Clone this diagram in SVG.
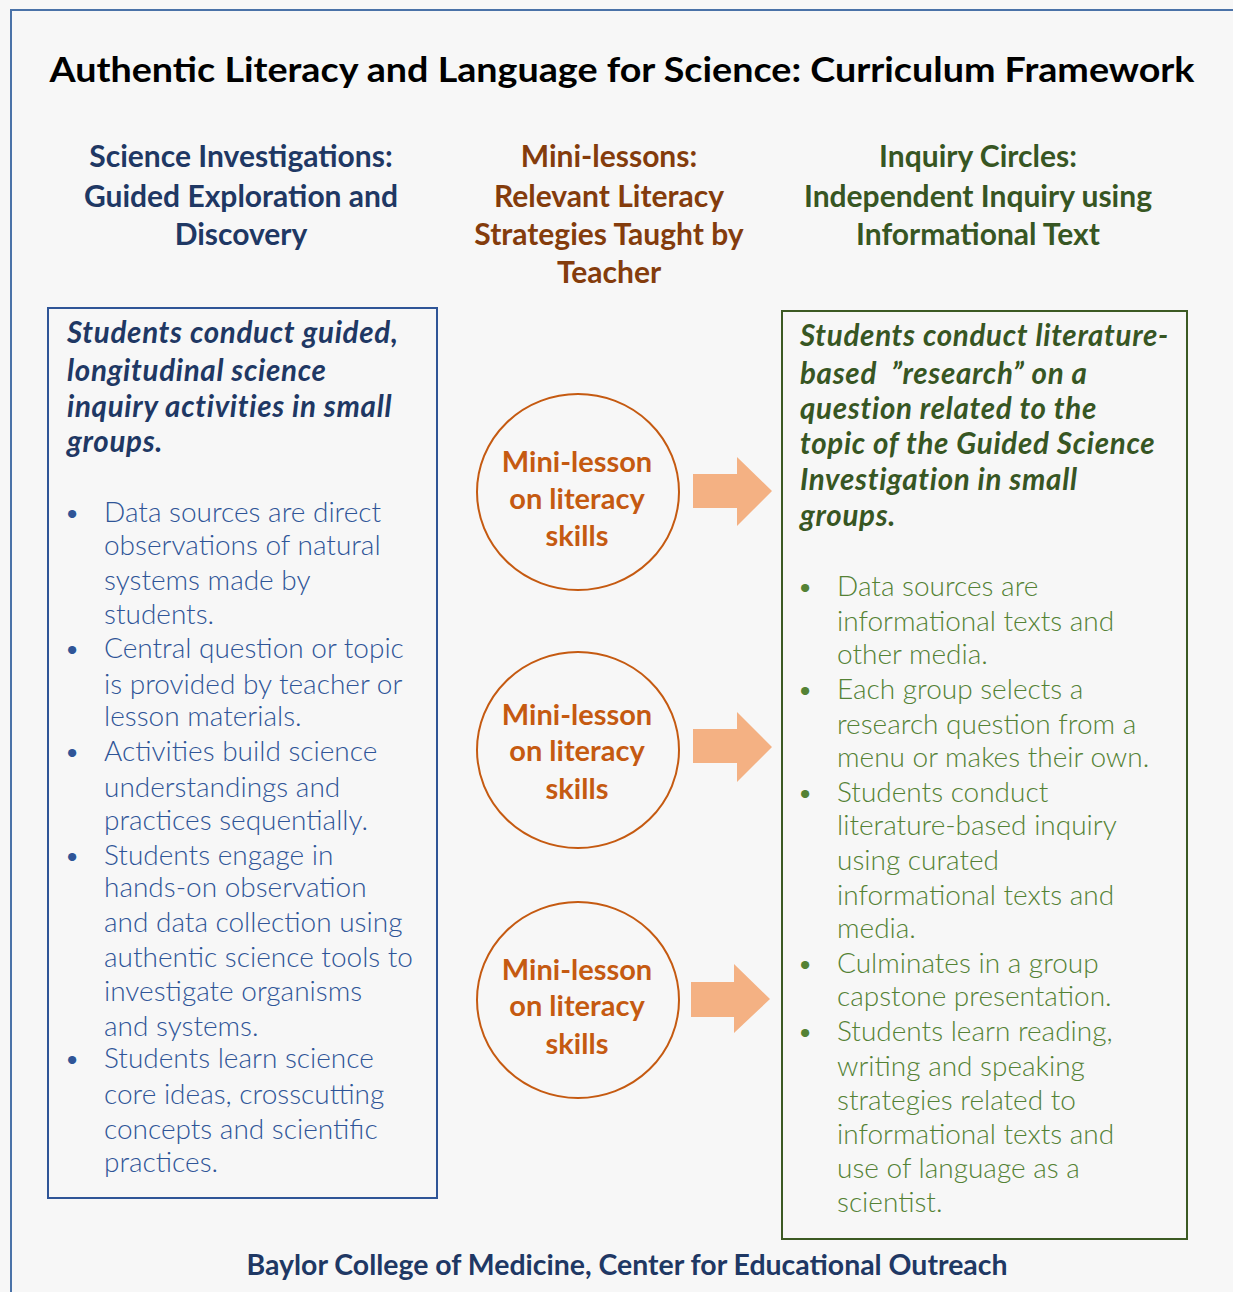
<svg xmlns="http://www.w3.org/2000/svg" width="1233" height="1292" viewBox="0 0 1233 1292">
<defs>
<style>
.title{font-family:Lato,"Liberation Sans",sans-serif;font-weight:700;font-size:35px;fill:#000}
.hd{font-family:Lato,"Liberation Sans",sans-serif;font-weight:700;font-size:30px;text-anchor:middle}
.hb{fill:#1f3864}.hm{fill:#843c0c}.hg{fill:#375623}
.lead{font-family:Lato,"Liberation Sans",sans-serif;font-weight:700;font-style:italic;font-size:29.5px;letter-spacing:0.7px}
.bl{font-family:Lato,"Liberation Sans",sans-serif;font-weight:300;font-size:28px}
.blue{fill:#2f5597}.green{fill:#548235}
.circ{fill:none;stroke:#c55a11;stroke-width:2}
.ct{font-family:Lato,"Liberation Sans",sans-serif;font-weight:700;font-size:29px;fill:#c55a11;text-anchor:middle}
.arr{fill:#f4b183}
.foot{font-family:Lato,"Liberation Sans",sans-serif;font-weight:700;font-size:28px;fill:#1f3864;text-anchor:middle}
</style>
</defs>
<rect x="0" y="0" width="1233" height="1292" fill="#f7f7f7"/>
<path d="M11 1292 V10 H1233" fill="none" stroke="#4a72a8" stroke-width="2"/>
<text class="title" x="622" y="82" text-anchor="middle" textLength="1145" lengthAdjust="spacingAndGlyphs">Authentic Literacy and Language for Science: Curriculum Framework</text>

<g id="header-left" class="hd hb">
<text x="241" y="167">Science Investigations:</text>
<text x="241" y="207">Guided Exploration and</text>
<text x="241" y="245">Discovery</text>
</g>
<g id="header-mid" class="hd hm">
<text x="609" y="167">Mini-lessons:</text>
<text x="609" y="207">Relevant Literacy</text>
<text x="609" y="245">Strategies Taught by</text>
<text x="609" y="283">Teacher</text>
</g>
<g id="header-right" class="hd hg">
<text x="978" y="167">Inquiry Circles:</text>
<text x="978" y="207">Independent Inquiry using</text>
<text x="978" y="245">Informational Text</text>
</g>

<g id="box-left">
<rect x="48" y="308" width="389" height="890" fill="none" stroke="#2f5597" stroke-width="2"/>
<g class="lead hb">
<text x="67" y="343">Students conduct guided,</text>
<text x="67" y="381">longitudinal science</text>
<text x="67" y="417">inquiry activities in small</text>
<text x="67" y="452">groups.</text>
</g>
<g class="bl blue">
<text x="64" y="522">•</text>
<text x="104" y="522">Data sources are direct</text>
<text x="104" y="555">observations of natural</text>
<text x="104" y="590">systems made by</text>
<text x="104" y="624">students.</text>
<text x="64" y="658">•</text>
<text x="104" y="658">Central question or topic</text>
<text x="104" y="694">is provided by teacher or</text>
<text x="104" y="726">lesson materials.</text>
<text x="64" y="761">•</text>
<text x="104" y="761">Activities build science</text>
<text x="104" y="797">understandings and</text>
<text x="104" y="830">practices sequentially.</text>
<text x="64" y="865">•</text>
<text x="104" y="865">Students engage in</text>
<text x="104" y="897">hands-on observation</text>
<text x="104" y="932">and data collection using</text>
<text x="104" y="967">authentic science tools to</text>
<text x="104" y="1001">investigate organisms</text>
<text x="104" y="1036">and systems.</text>
<text x="64" y="1068">•</text>
<text x="104" y="1068">Students learn science</text>
<text x="104" y="1104">core ideas, crosscutting</text>
<text x="104" y="1139">concepts and scientific</text>
<text x="104" y="1172">practices.</text>
</g>
</g>

<g id="box-right">
<rect x="782" y="311" width="405" height="928" fill="none" stroke="#3c5a23" stroke-width="2"/>
<g class="lead hg">
<text x="800" y="346">Students conduct literature-</text>
<text x="800" y="384" xml:space="preserve">based  ”research” on a</text>
<text x="800" y="419">question related to the</text>
<text x="800" y="454">topic of the Guided Science</text>
<text x="800" y="490">Investigation in small</text>
<text x="800" y="526">groups.</text>
</g>
<g class="bl green">
<text x="797" y="596">•</text>
<text x="837" y="596">Data sources are</text>
<text x="837" y="631">informational texts and</text>
<text x="837" y="664">other media.</text>
<text x="797" y="699">•</text>
<text x="837" y="699">Each group selects a</text>
<text x="837" y="734">research question from a</text>
<text x="837" y="767">menu or makes their own.</text>
<text x="797" y="802">•</text>
<text x="837" y="802">Students conduct</text>
<text x="837" y="835">literature-based inquiry</text>
<text x="837" y="870">using curated</text>
<text x="837" y="905">informational texts and</text>
<text x="837" y="938">media.</text>
<text x="797" y="973">•</text>
<text x="837" y="973">Culminates in a group</text>
<text x="837" y="1006">capstone presentation.</text>
<text x="797" y="1041">•</text>
<text x="837" y="1041">Students learn reading,</text>
<text x="837" y="1076">writing and speaking</text>
<text x="837" y="1110">strategies related to</text>
<text x="837" y="1144">informational texts and</text>
<text x="837" y="1178">use of language as a</text>
<text x="837" y="1212">scientist.</text>
</g>
</g>

<g id="mini-1">
<ellipse class="circ" cx="578" cy="492" rx="101" ry="98"/>
<text class="ct" x="577" y="472">Mini-lesson</text>
<text class="ct" x="577" y="509">on literacy</text>
<text class="ct" x="577" y="546">skills</text>
</g>
<g id="mini-2">
<ellipse class="circ" cx="578" cy="750" rx="101" ry="98"/>
<text class="ct" x="577" y="725">Mini-lesson</text>
<text class="ct" x="577" y="761">on literacy</text>
<text class="ct" x="577" y="799">skills</text>
</g>
<g id="mini-3">
<ellipse class="circ" cx="578" cy="1000" rx="101" ry="98"/>
<text class="ct" x="577" y="980">Mini-lesson</text>
<text class="ct" x="577" y="1016">on literacy</text>
<text class="ct" x="577" y="1054">skills</text>
</g>

<g id="connectors">
<polygon class="arr" points="693,474 737,474 737,457 772,491 737,526 737,508 693,508"/>
<polygon class="arr" points="693,729 737,729 737,712 772,747 737,782 737,763 693,763"/>
<polygon class="arr" points="691,982 734,982 734,964 770,999 734,1033 734,1017 691,1017"/>
</g>

<text class="foot" x="627" y="1275" textLength="761" lengthAdjust="spacingAndGlyphs">Baylor College of Medicine, Center for Educational Outreach</text>
</svg>
